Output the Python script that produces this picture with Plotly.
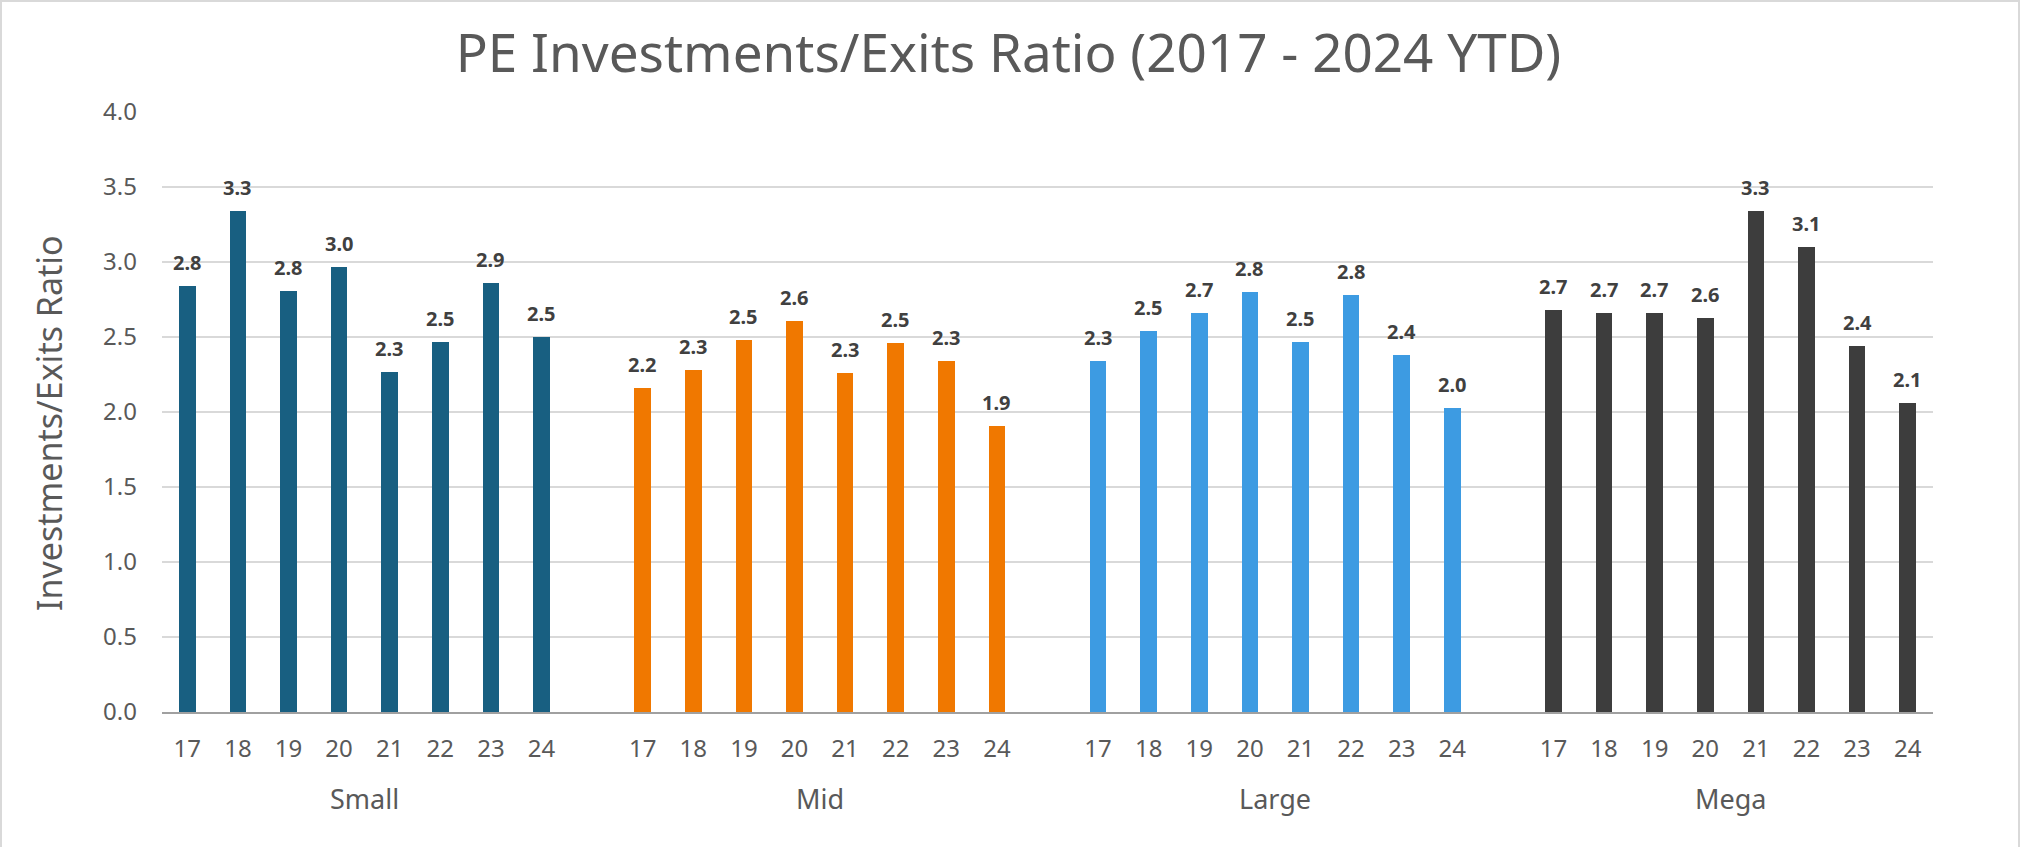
import plotly.graph_objects as go

# ---- data ----
groups = ["Small", "Mid", "Large", "Mega"]
years = ["17", "18", "19", "20", "21", "22", "23", "24"]
small = [2.84, 3.34, 2.81, 2.97, 2.27, 2.47, 2.86, 2.50]
mid = [2.16, 2.28, 2.48, 2.61, 2.26, 2.46, 2.34, 1.91]
large = [2.34, 2.54, 2.66, 2.80, 2.47, 2.78, 2.38, 2.03]
mega = [2.68, 2.66, 2.66, 2.63, 3.34, 3.10, 2.44, 2.06]
series = [small, mid, large, mega]
colors = ["#185f81", "#f07800", "#3d9be2", "#3d3d3d"]

W, H = 2021, 847
L, R, T, B = 162, 88, 112, 135
FONT = "Noto Sans"
TXT = "#595959"

fig = go.Figure()
step = len(years) + 1
tickvals, ticktext = [], []
annotations = []
for g, (name, vals, col) in enumerate(zip(groups, series, colors)):
    xs = [g * step + i for i in range(len(years))]
    tickvals += xs
    ticktext += years
    fig.add_trace(go.Bar(x=xs, y=vals, width=0.33, marker=dict(color=col, line=dict(width=0)),
                         name=name, showlegend=False, hoverinfo="x+y"))
    for x, v in zip(xs, vals):
        annotations.append(dict(x=x, y=v, xref="x", yref="y", text=f"{v:.1f}", showarrow=False,
                                yanchor="bottom", yshift=8,
                                font=dict(family=FONT, size=20, color="#404040", weight="bold")))
    annotations.append(dict(x=(xs[0] + xs[-1]) / 2, y=-(798 - (H - B)) / (H - T - B), xref="x", yref="paper",
                            text=name, showarrow=False, yanchor="middle",
                            font=dict(family=FONT, size=27, color=TXT)))

plot_w = W - L - R
plot_h = H - T - B
annotations.append(dict(x=(49 - L) / plot_w, y=((H - B) - 423) / plot_h, xref="paper", yref="paper",
                        text="Investments/Exits Ratio", textangle=-90, showarrow=False,
                        xanchor="center", yanchor="middle",
                        font=dict(family=FONT, size=34, color=TXT)))

fig.update_layout(
    width=W, height=H,
    margin=dict(l=L, r=R, t=T, b=B, pad=0),
    paper_bgcolor="white", plot_bgcolor="white",
    title=dict(text="PE Investments/Exits Ratio (2017 - 2024 YTD)", x=(455 + 1562) / 2 / W, xanchor="center",
               y=1 - 53 / H, yanchor="middle", yref="container",
               font=dict(family=FONT, size=53, color=TXT)),
    bargap=0,
    annotations=annotations,
    shapes=[dict(type="rect", xref="paper", yref="paper",
                 x0=(1 - L) / plot_w, x1=(W - 2 - L) / plot_w,
                 y0=-(B + 10) / plot_h, y1=1 + (T - 1) / plot_h,
                 line=dict(color="#d9d9d9", width=2), layer="below")],
)
fig.update_xaxes(range=[-0.5, len(groups) * step - 1.5], tickmode="array", tickvals=tickvals, ticktext=ticktext,
                 showgrid=False, zeroline=False, showline=True, linecolor="#a0a0a0", linewidth=1.5,
                 ticks="", ticklabelstandoff=14,
                 tickfont=dict(family=FONT, size=24, color=TXT))
fig.update_yaxes(range=[0, 4], dtick=0.5, tick0=0, tickformat=".1f", showgrid=True, gridcolor="#d9d9d9",
                 gridwidth=1.5, zeroline=False, showline=False, ticks="", ticklabelstandoff=24,
                 tickfont=dict(family=FONT, size=24, color=TXT))

fig.write_html("out.html", config={"displayModeBar": False},
               post_script="document.body.style.margin='0';document.body.style.overflow='hidden';")
